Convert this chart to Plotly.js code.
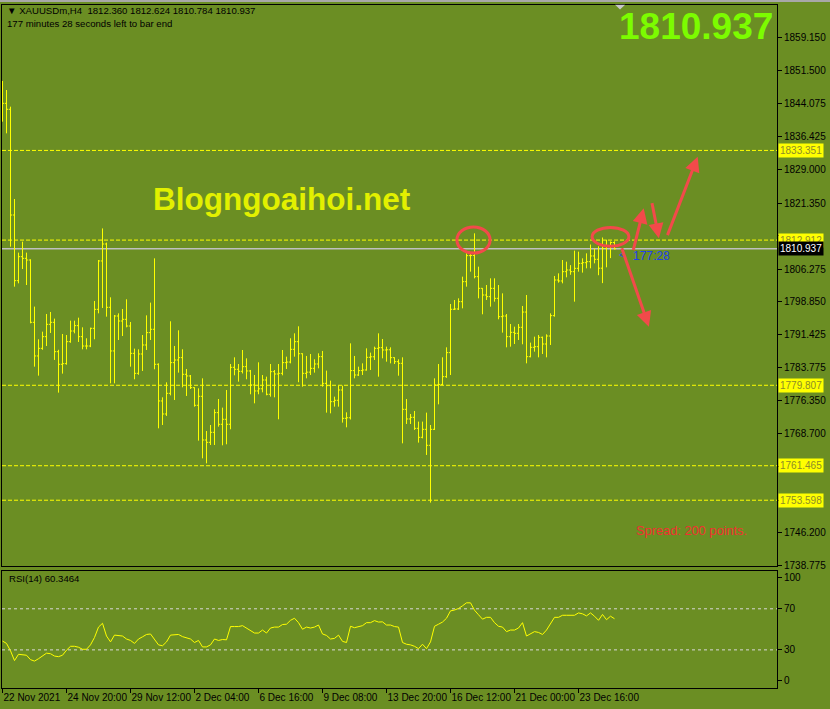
<!DOCTYPE html>
<html>
<head>
<meta charset="utf-8">
<script src="https://cdn.plot.ly/plotly-3.0.1.min.js"></script>
<style>
html,body{margin:0;padding:0;background:#6b8e23;}
#chart{width:830px;height:709px;}
</style>
</head>
<body>
<div id="chart"></div>
<script>
// ---- data (H4 bars, XAUUSDm) ----
const openP = [1845.50,1844.09,1842.73,1818.63,1803.66,1809.13,1808.75,1808.37,1794.16,1786.49,
1788.23,1790.89,1793.70,1794.16,1787.47,1784.59,1784.74,1789.75,1792.18,1793.40,
1790.89,1788.76,1788.76,1792.79,1797.12,1808.15,1812.02,1797.58,1787.63,1795.60,
1794.46,1794.84,1793.32,1787.09,1782.53,1786.94,1788.99,1791.81,1792.57,1784.59,
1776.23,1773.26,1777.97,1784.97,1785.57,1786.11,1782.31,1781.93,1779.27,1775.24,
1777.29,1767.33,1766.80,1769.08,1773.57,1770.91,1772.05,1770.91,1783.90,1783.45,
1782.99,1784.05,1783.07,1779.87,1778.51,1779.00,1781.01,1777.75,1782.91,1782.38,
1782.53,1784.97,1785.10,1788.00,1789.75,1787.00,1782.53,1782.80,1783.67,1784.66,
1786.33,1780.25,1779.72,1776.07,1776.38,1778.73,1772.27,1772.40,1783.15,1782.15,
1783.15,1783.29,1786.18,1786.30,1788.23,1788.38,1787.85,1787.90,1786.11,1785.19,
1784.81,1774.32,1772.12,1772.50,1769.99,1767.94,1769.76,1766.12,1769.76,1779.87,
1780.00,1781.77,1787.25,1797.13,1797.20,1798.87,1803.43,1809.36,1809.40,1804.57,
1801.91,1800.39,1800.01,1801.91,1799.63,1795.45,1795.60,1790.89,1791.88,1791.65,
1793.02,1796.50,1786.33,1788.46,1788.61,1790.74,1789.22,1791.04,1795.68,1803.81,
1803.59,1805.71,1806.09,1805.71,1806.47,1807.61,1807.76,1807.99,1809.29,1808.53,
1806.50,1811.00,1811.50,1812.36];
const highP = [1849.19,1847.13,1843.33,1822.28,1810.05,1812.55,1810.05,1808.53,1797.74,1790.29,
1792.03,1796.06,1796.52,1795.00,1787.90,1791.50,1791.27,1794.54,1794.54,1795.22,
1793.02,1790.52,1792.94,1799.03,1808.37,1815.57,1812.33,1799.86,1795.83,1796.21,
1797.20,1799.41,1794.24,1788.16,1788.00,1791.27,1795.75,1798.65,1808.75,1784.81,
1777.06,1780.48,1794.39,1788.77,1792.34,1788.01,1783.52,1782.15,1779.34,1779.11,
1781.39,1769.38,1770.75,1774.33,1776.68,1774.71,1778.73,1784.66,1786.18,1784.66,
1787.85,1785.95,1783.30,1782.15,1785.04,1782.15,1781.77,1784.66,1783.29,1784.66,
1787.85,1786.33,1790.52,1791.65,1793.25,1787.09,1786.49,1786.94,1785.73,1787.09,
1787.63,1783.15,1780.86,1777.21,1779.72,1779.72,1773.64,1789.37,1786.49,1784.05,
1784.81,1788.23,1787.25,1788.61,1791.65,1790.36,1788.61,1788.46,1786.18,1785.73,
1786.18,1776.68,1773.26,1773.95,1771.52,1771.52,1773.57,1770.75,1781.39,1784.66,
1786.18,1788.46,1798.34,1799.25,1799.63,1804.57,1809.89,1809.89,1814.45,1806.85,
1801.96,1802.67,1804.19,1804.19,1802.67,1800.77,1796.06,1793.78,1793.17,1793.78,
1797.89,1800.39,1789.53,1790.89,1791.27,1790.90,1791.42,1796.21,1804.73,1805.33,
1808.37,1807.99,1807.20,1810.50,1810.27,1808.75,1809.89,1811.90,1811.00,1811.50,
1813.50,1813.00,1812.60,1812.624];
const lowP = [1839.91,1837.25,1811.41,1802.29,1803.05,1806.32,1802.67,1793.93,1784.05,1782.00,
1787.90,1788.76,1791.73,1785.58,1778.13,1782.46,1784.50,1789.50,1791.65,1789.68,
1788.00,1788.00,1788.50,1790.29,1796.21,1797.43,1795.45,1780.25,1780.25,1790.13,
1791.04,1793.02,1784.05,1781.17,1782.20,1783.07,1787.85,1790.13,1783.45,1769.99,
1770.75,1772.81,1777.50,1776.45,1782.69,1779.34,1777.37,1778.96,1774.93,1767.18,
1763.15,1762.01,1766.19,1766.19,1770.37,1766.12,1766.35,1769.77,1782.08,1780.63,
1782.50,1781.17,1777.75,1775.69,1777.75,1778.20,1777.52,1777.21,1777.06,1772.05,
1782.08,1783.52,1784.81,1786.33,1780.50,1779.49,1781.39,1782.15,1782.69,1783.67,
1779.49,1773.57,1773.41,1774.93,1774.93,1771.29,1770.22,1772.00,1781.39,1781.93,
1782.15,1783.15,1783.29,1785.57,1781.77,1785.95,1785.19,1784.81,1784.66,1781.99,
1766.57,1770.98,1770.98,1769.62,1766.73,1767.71,1763.92,1753.05,1769.61,1775.46,
1779.80,1781.50,1782.15,1796.97,1796.97,1797.35,1802.29,1805.71,1804.19,1799.63,
1795.99,1799.25,1797.73,1798.87,1794.85,1791.81,1788.46,1788.61,1789.22,1790.13,
1789.15,1784.81,1786.18,1787.47,1786.18,1786.94,1786.18,1788.99,1795.45,1803.21,
1803.05,1804.42,1805.00,1798.87,1805.71,1805.49,1806.47,1806.47,1807.61,1804.90,
1803.10,1806.70,1808.80,1810.784];
const closeP = [1844.09,1842.73,1818.63,1803.66,1809.13,1808.75,1808.37,1794.16,1786.49,1788.23,
1790.89,1793.70,1794.16,1787.47,1784.59,1784.74,1789.75,1792.18,1793.40,1790.89,
1788.76,1788.76,1792.79,1797.12,1808.15,1812.02,1797.58,1787.63,1795.60,1794.46,
1794.84,1793.32,1787.09,1782.53,1786.94,1788.99,1791.81,1792.57,1784.59,1776.23,
1773.26,1777.97,1784.97,1785.57,1786.11,1782.31,1781.93,1779.27,1775.24,1777.29,
1767.33,1766.80,1769.08,1773.57,1770.91,1772.05,1770.91,1783.90,1783.45,1782.99,
1784.05,1783.07,1779.87,1778.51,1779.00,1781.01,1777.75,1782.91,1782.38,1782.53,
1784.97,1785.10,1788.00,1789.75,1787.00,1782.53,1782.80,1783.67,1784.66,1786.33,
1780.25,1779.72,1776.07,1776.38,1778.73,1772.27,1772.40,1783.15,1782.15,1783.15,
1783.29,1786.18,1786.30,1788.23,1788.38,1787.85,1787.90,1786.11,1785.19,1784.81,
1774.32,1772.12,1772.50,1769.99,1767.94,1769.76,1766.12,1769.76,1779.87,1780.00,
1781.77,1787.25,1797.13,1797.20,1798.87,1803.43,1809.36,1809.40,1804.57,1801.91,
1800.39,1800.01,1801.91,1799.63,1795.45,1795.60,1790.89,1791.88,1791.65,1793.02,
1796.50,1786.33,1788.46,1788.61,1790.74,1789.22,1791.04,1795.68,1803.81,1803.59,
1805.71,1806.09,1805.71,1806.47,1807.61,1807.76,1807.99,1809.29,1808.53,1806.50,
1811.00,1811.50,1812.36,1810.937];
const rsi14 = [38.6,36.3,29.1,19.6,25.7,25.4,24.8,20.5,19.1,21.4,
24.2,26.8,26.3,24.0,23.4,24.8,29.7,33.5,33.5,32.6,
30.6,30.6,34.9,42.1,52.2,55.9,43.5,37.8,44.4,44.1,
43.5,40.6,39.2,36.3,40.6,42.7,45.0,45.5,40.6,34.9,
34.0,37.8,44.4,44.4,45.0,42.9,42.1,40.6,37.2,39.2,
32.9,32.9,34.9,40.6,39.2,40.1,39.8,52.7,52.7,52.7,
53.6,51.3,48.4,46.4,46.4,49.3,46.4,51.3,52.2,52.2,
54.7,55.0,58.8,60.8,56.5,50.1,52.2,51.3,52.2,54.2,
45.5,44.1,40.6,41.2,44.4,38.3,37.2,53.0,51.6,52.7,
53.6,56.5,56.5,58.5,57.1,57.3,54.2,54.2,52.7,52.2,
37.2,35.5,34.9,33.5,31.2,35.5,31.2,37.8,53.0,55.0,
57.1,60.8,68.0,68.8,70.3,72.9,75.8,75.8,68.6,64.2,
59.9,61.7,61.7,56.5,53.0,52.2,47.8,49.3,49.3,51.3,
56.5,43.5,45.5,47.8,47.0,45.0,49.3,55.0,61.7,61.7,
63.7,63.7,63.7,63.7,66.0,65.1,63.1,66.0,62.8,58.8,
64.5,59.4,62.8,60.3464];
const timeTickBars = [0,16,32,48,64,80,96,112,128,144];
const timeTickLabels = ['22 Nov 2021','24 Nov 20:00','29 Nov 12:00','2 Dec 04:00','6 Dec 16:00','9 Dec 08:00','13 Dec 20:00','16 Dec 12:00','21 Dec 00:00','23 Dec 16:00'];
const priceTicks = [1859.150,1851.500,1844.075,1836.425,1829.000,1821.350,1813.925,1806.275,1798.850,1791.425,1783.775,1776.350,1768.700,1761.275,1753.625,1746.200,1738.775];
// labels hidden behind the level boxes are left blank
const priceTickText = ['1859.150','1851.500','1844.075','1836.425','1829.000','1821.350','','1806.275','1798.850','1791.425','1783.775','1776.350','1768.700','','','1746.200','1738.775'];
const levels = [1833.351,1812.912,1779.807,1761.465,1753.598];
const lastPrice = 1810.937;
const rsiLevels = [70,30];
const rsiTicks = [100,70,30,0];

const barX = openP.map((_, i) => i);

const YEL = '#ffff00';
const BG = '#6b8e23';
const FONT = 'Liberation Sans, Arial, sans-serif';

const traces = [
  {type:'ohlc', x:barX, open:openP, high:highP, low:lowP, close:closeP,
   xaxis:'x', yaxis:'y', tickwidth:0.4, hoverinfo:'skip',
   increasing:{line:{color:YEL,width:1}}, decreasing:{line:{color:YEL,width:1}}},
  {type:'scatter', mode:'lines', x:barX, y:rsi14, xaxis:'x2', yaxis:'y2',
   line:{color:YEL,width:1}, hoverinfo:'skip'}
];

const shapes = [];
levels.forEach(v => shapes.push({type:'line', xref:'paper', x0:0, x1:1, yref:'y', y0:v, y1:v,
  line:{color:YEL, width:1, dash:'4px,2px'}, layer:'below'}));
shapes.push({type:'line', xref:'paper', x0:0, x1:1, yref:'y', y0:lastPrice, y1:lastPrice,
  line:{color:'#c0c0c0', width:1.5}, layer:'below'});
rsiLevels.forEach(v => shapes.push({type:'line', xref:'paper', x0:0, x1:1, yref:'y2', y0:v, y1:v,
  line:{color:'#d8d8d8', width:1, dash:'3px,3px'}, layer:'below'}));
// red ellipses
shapes.push({type:'circle', xref:'x', yref:'y', x0:113.6, x1:121.9, y0:1809.95, y1:1815.9,
  line:{color:'#f24a4a', width:3}});
shapes.push({type:'circle', xref:'x', yref:'y', x0:147.4, x1:156.6, y0:1811.5, y1:1815.8,
  line:{color:'#f24a4a', width:3}});
// top border strip & shift marker
shapes.push({type:'rect', xref:'paper', yref:'paper', x0:-0.01, x1:1.1, y0:1.0045, y1:1.0075,
  fillcolor:'#a8a8a8', line:{width:0}});
shapes.push({type:'path', xref:'paper', yref:'paper',
  path:'M 0.7910 1.0005 L 0.8040 1.0005 L 0.7975 0.9935 Z', fillcolor:'#c8c8c8', line:{width:0}});

const annotations = [];
levels.forEach(v => annotations.push({xref:'paper', x:1, xanchor:'left', xshift:1, yref:'y', y:v,
  yanchor:'middle', text:v.toFixed(3), showarrow:false, bgcolor:YEL, borderpad:1,
  font:{family:FONT, size:10, color:'#8c8c28'}}));
annotations.push({xref:'paper', x:1, xanchor:'left', xshift:1, yref:'y', y:lastPrice,
  yanchor:'middle', text:lastPrice.toFixed(3), showarrow:false, bgcolor:'#000000', borderpad:1,
  font:{family:FONT, size:10, color:'#ffffff'}});
annotations.push({xref:'paper', yref:'paper', x:0.0035, y:0.9915, xanchor:'left', yanchor:'middle',
  text:'▼ XAUUSDm,H4  1812.360 1812.624 1810.784 1810.937', showarrow:false,
  font:{family:FONT, size:9.6, color:'#000000'}});
annotations.push({xref:'paper', yref:'paper', x:0.0035, y:0.9725, xanchor:'left', yanchor:'middle',
  text:'177 minutes 28 seconds left to bar end', showarrow:false,
  font:{family:FONT, size:9.6, color:'#000000'}});
annotations.push({xref:'paper', yref:'paper', x:0.9975, y:0.9690, xanchor:'right', yanchor:'middle',
  text:'<b>1810.937</b>', showarrow:false, font:{family:FONT, size:37, color:'#7cfc00'}});
annotations.push({xref:'paper', yref:'paper', x:0.1925, y:0.7160, xanchor:'left', yanchor:'middle',
  text:'<b>Blogngoaihoi.net</b>', showarrow:false, font:{family:FONT, size:31.5, color:'#e2f000'}});
annotations.push({xref:'paper', yref:'paper', x:0.8155, y:0.2313, xanchor:'left', yanchor:'middle',
  text:'Spread: 200 points.', showarrow:false, font:{family:FONT, size:12.8, color:'#f23030'}});
annotations.push({xref:'paper', yref:'paper', x:0.0065, y:0.1596, xanchor:'left', yanchor:'middle',
  text:'RSI(14) 60.3464', showarrow:false, font:{family:FONT, size:9.6, color:'#000000'}});
annotations.push({xref:'x', yref:'y', x:157.2, y:1809.28, xanchor:'left', yanchor:'middle',
  text:'177:28', showarrow:false, font:{family:FONT, size:12, color:'#1f3ff0'}});
annotations.push({xref:'x', yref:'y', x:153.6, y:1809.5, xanchor:'left', yanchor:'middle',
  text:'<', showarrow:false, font:{family:FONT, size:9, color:'#1f3ff0'}});
// red arrows
const arrows = [[154.7,1811.41,161.6,1793.17],[157.6,1810.27,160.3,1820.16],
                [162.3,1821.67,164.1,1813.32],[166.1,1813.69,173.8,1831.93]];
arrows.forEach(a => annotations.push({xref:'x', yref:'y', axref:'x', ayref:'y',
  ax:a[0], ay:a[1], x:a[2], y:a[3], text:'', showarrow:true, arrowhead:2, arrowsize:1,
  arrowwidth:3, arrowcolor:'#f24a4a'}));

const H = 709, mb = 21, mt = 5, ph = H - mb - mt;
const XR = [-0.125, 193.625];
const layout = {
  width:830, height:709,
  paper_bgcolor:BG, plot_bgcolor:BG,
  margin:{l:2, r:53, t:mt, b:mb, pad:0},
  showlegend:false, hovermode:false, dragmode:false,
  font:{family:FONT, size:10, color:'#000000'},
  xaxis:{domain:[0,1], anchor:'y', range:XR, showgrid:false, zeroline:false,
    showticklabels:false, ticks:'', showline:true, mirror:true, linecolor:'#000000', linewidth:1,
    rangeslider:{visible:false}, fixedrange:true},
  yaxis:{domain:[(688-566)/ph, 1], range:[1738.6,1866.51], side:'right', showgrid:false, zeroline:false,
    tickvals:priceTicks, ticktext:priceTickText, ticks:'outside', ticklen:4, tickcolor:'#000000',
    showline:true, mirror:true, linecolor:'#000000', linewidth:1,
    tickfont:{family:FONT, size:10, color:'#000000'}, fixedrange:true},
  xaxis2:{domain:[0,1], anchor:'y2', matches:'x', range:XR, showgrid:false, zeroline:false,
    tickvals:timeTickBars, ticktext:timeTickLabels, ticks:'outside', ticklen:4, tickcolor:'#000000',
    tickangle:0, ticklabelposition:'outside right', showline:true, mirror:true, linecolor:'#000000', linewidth:1,
    tickfont:{family:FONT, size:10, color:'#000000'}, fixedrange:true},
  yaxis2:{domain:[0,(688-571)/ph], range:[-7.1,106.8], side:'right', showgrid:false, zeroline:false,
    tickvals:rsiTicks, ticktext:rsiTicks.map(String), ticks:'outside', ticklen:4, tickcolor:'#000000',
    showline:true, mirror:true, linecolor:'#000000', linewidth:1,
    tickfont:{family:FONT, size:10, color:'#000000'}, fixedrange:true},
  shapes:shapes,
  annotations:annotations
};

Plotly.newPlot('chart', traces, layout, {staticPlot:true, displayModeBar:false});
</script>
</body>
</html>
